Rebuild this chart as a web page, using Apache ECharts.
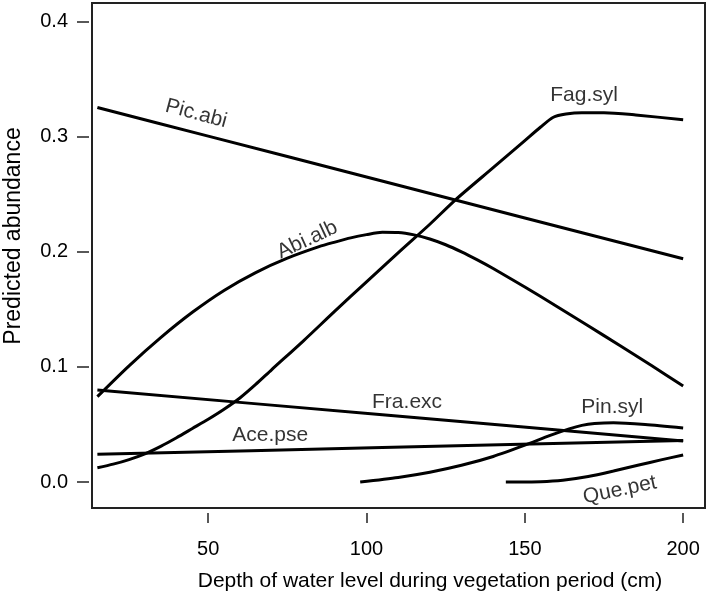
<!DOCTYPE html>
<html>
<head>
<meta charset="utf-8">
<script src="https://cdn.jsdelivr.net/npm/echarts@6/dist/echarts.min.js"></script>
<style>
  html, body { margin: 0; padding: 0; background: #fff; }
  #chart { width: 709px; height: 599px; }
</style>
</head>
<body>
<div id="chart"></div>
<script>
// predicted abundance curves, [depth (cm), abundance]
const picAbi = [[15, 0.3255], [50, 0.3006], [100, 0.2651], [150, 0.2295], [200, 0.194]]
const abiAlb = [
  [15, 0.0742], [25, 0.101], [35, 0.1255], [45, 0.1475], [55, 0.1665], [65, 0.182],
  [75, 0.1945], [85, 0.2045], [90, 0.2085], [95, 0.2122], [100, 0.2150], [105, 0.2170],
  [110, 0.2168], [115, 0.2148], [120, 0.2112], [125, 0.2062], [130, 0.2000], [135, 0.1930],
  [140, 0.1855], [150, 0.1695], [160, 0.1528], [170, 0.1358], [180, 0.1186], [190, 0.1012],
  [200, 0.0835]
]
const fagSyl = [
  [15, 0.0124], [20, 0.0155], [25, 0.0195], [30, 0.0245], [35, 0.031], [40, 0.0385],
  [45, 0.0465], [50, 0.0545], [55, 0.0632], [60, 0.0730], [65, 0.0848], [70, 0.0975],
  [80, 0.1225], [90, 0.1485], [100, 0.174], [111, 0.2017], [120, 0.224], [128, 0.245],
  [140, 0.2732], [150, 0.2967], [155, 0.3085], [159, 0.317], [163, 0.3198], [168, 0.321],
  [175, 0.321], [185, 0.319], [200, 0.3148]
]
const fraExc = [[15, 0.080], [105, 0.0584], [200, 0.0357]]
const acePse = [[15, 0.0241], [105, 0.0299], [200, 0.0360]]
const pinSyl = [
  [98, 0.0], [110, 0.004], [120, 0.0085], [130, 0.0145], [140, 0.0222], [150, 0.032],
  [158, 0.0405], [164, 0.0462], [168, 0.0492], [172, 0.0508], [178, 0.0515], [188, 0.0500],
  [200, 0.047]
]
const quePet = [
  [144, 0.0], [155, 0.0003], [162, 0.0015], [170, 0.0047], [178, 0.0095], [186, 0.0148],
  [193, 0.0192], [200, 0.0235]
]

const xTicks = [50, 100, 150, 200]
const yTicks = [0.0, 0.1, 0.2, 0.3, 0.4]

// curve labels
const labelNames = ['Pic.abi', 'Abi.alb', 'Fag.syl', 'Fra.exc', 'Ace.pse', 'Pin.syl', 'Que.pet']
const labelX = [46.2, 81.3, 168.7, 112.8, 69.6, 177.6, 180]
const labelY = [0.320, 0.2104, 0.3365, 0.0696, 0.0409, 0.0652, -0.007]
const labelRotate = [-15, 25, 0, 0, 0, 0, 12]

const FONT = '"Liberation Sans", Arial, sans-serif'
const chart = echarts.init(document.getElementById('chart'))

const curves = [picAbi, abiAlb, fagSyl, fraExc, acePse, pinSyl, quePet]
const lineSeries = curves.map((d, i) => ({
  name: labelNames[i],
  type: 'line',
  data: d,
  showSymbol: false,
  smooth: 0.25,
  lineStyle: { color: '#000', width: 3 },
  z: 3
}))

// the axis line itself is invisible: the grid border draws the box, ticks sit just outside it
const hiddenLine = { show: true, onZero: false, lineStyle: { color: '#fff', opacity: 0, width: 0 } }

const option = {
  animation: false,
  backgroundColor: '#fff',
  grid: {
    left: 92, top: 3, right: 4, bottom: 91,
    show: true,
    borderColor: '#222',
    borderWidth: 2
  },
  xAxis: {
    type: 'value',
    min: 13.3,
    max: 206.9,
    offset: 5,
    axisLine: hiddenLine,
    splitLine: { show: false },
    axisTick: { show: true, length: 10, customValues: xTicks, lineStyle: { color: '#222', width: 1.5 } },
    axisLabel: { customValues: xTicks, margin: 26, fontSize: 20, color: '#000', fontFamily: FONT }
  },
  yAxis: {
    type: 'value',
    min: -0.0226,
    max: 0.4163,
    offset: 3,
    axisLine: hiddenLine,
    splitLine: { show: false },
    axisTick: { show: true, length: 12, customValues: yTicks, lineStyle: { color: '#222', width: 1.5 } },
    axisLabel: {
      customValues: yTicks, margin: 21, fontSize: 20, color: '#000', fontFamily: FONT,
      formatter: v => v.toFixed(1)
    }
  },
  graphic: [
    {
      type: 'text', x: 430, y: 581,
      style: {
        text: 'Depth of water level during vegetation period (cm)',
        font: '21px ' + FONT, fill: '#000', textAlign: 'center', textVerticalAlign: 'middle'
      }
    },
    {
      type: 'text', x: 14, y: 236, rotation: Math.PI / 2,
      style: {
        text: 'Predicted abundance',
        font: '23px ' + FONT, fill: '#000', textAlign: 'center', textVerticalAlign: 'middle'
      }
    }
  ],
  series: lineSeries.concat([{
    type: 'scatter',
    symbolSize: 0,
    silent: true,
    z: 4,
    data: labelNames.map((n, i) => ({
      value: [labelX[i], labelY[i]],
      label: {
        show: true, position: 'inside', formatter: n, rotate: labelRotate[i],
        fontSize: 21, color: '#000', fontFamily: FONT
      }
    }))
  }])
}

chart.setOption(option)
</script>
</body>
</html>
